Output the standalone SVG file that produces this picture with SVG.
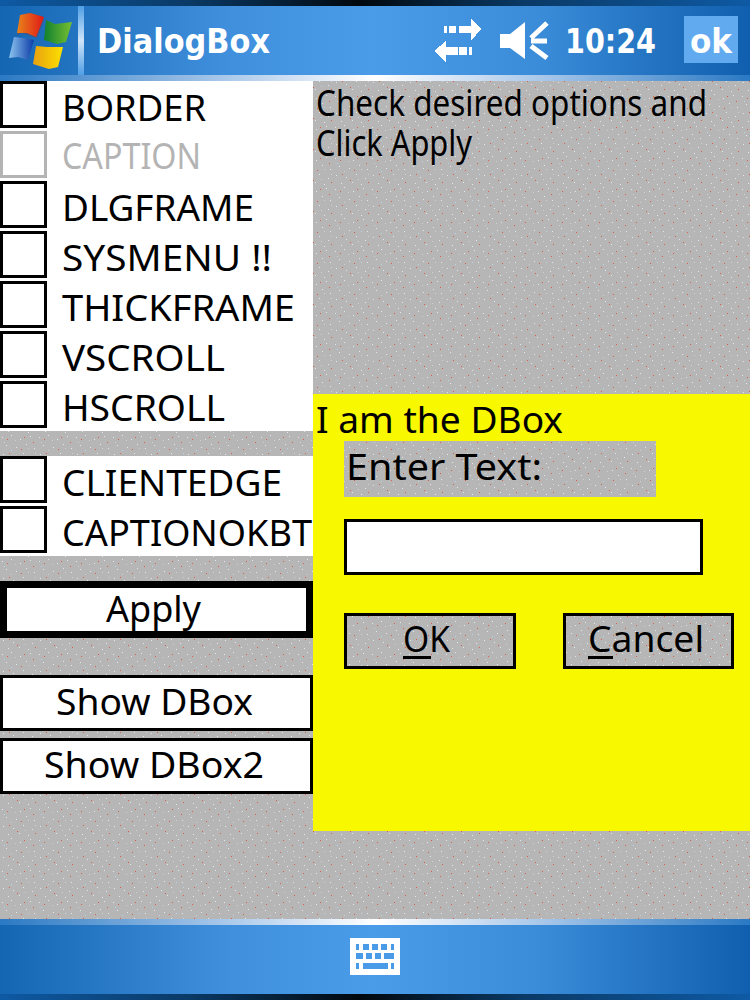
<svg xmlns="http://www.w3.org/2000/svg" width="750" height="1000" viewBox="0 0 750 1000">
<style>
.t{font-family:"Noto Sans","Liberation Sans",sans-serif;font-size:37px;fill:#000}
.w{font-family:"DejaVu Sans","Liberation Sans",sans-serif;font-size:33px;font-weight:bold;fill:#fff}
.dis{fill:#b4b4b4}
.box{fill:#fff;stroke:#000;stroke-width:3}
.gbox{fill:#fff;stroke:#b4b4b4;stroke-width:3}
.btn{fill:#fff;stroke:#000;stroke-width:3}
.gbtn{fill:url(#noise);stroke:#000;stroke-width:3}
.ic{fill:#fff}
.wave{stroke:#fff;stroke-width:5;fill:none}
</style>
<defs>
<pattern id="noise" width="37" height="31" patternUnits="userSpaceOnUse">
<rect width="37" height="31" fill="#b6b6b6"/>
<g fill="#e4e8ec"><rect x="2" y="3" width="1" height="1"/><rect x="11" y="1" width="1" height="1"/><rect x="20" y="5" width="1" height="1"/><rect x="30" y="2" width="1" height="1"/><rect x="6" y="11" width="1" height="1"/><rect x="16" y="13" width="1" height="1"/><rect x="26" y="10" width="1" height="1"/><rect x="34" y="14" width="1" height="1"/><rect x="3" y="20" width="1" height="1"/><rect x="13" y="22" width="1" height="1"/><rect x="23" y="19" width="1" height="1"/><rect x="32" y="23" width="1" height="1"/><rect x="8" y="28" width="1" height="1"/><rect x="19" y="27" width="1" height="1"/><rect x="28" y="29" width="1" height="1"/></g>
<g fill="#d8604a"><rect x="7" y="5" width="1" height="1"/><rect x="24" y="3" width="1" height="1"/><rect x="33" y="8" width="1" height="1"/><rect x="21" y="15" width="1" height="1"/><rect x="9" y="19" width="1" height="1"/><rect x="17" y="25" width="1" height="1"/><rect x="35" y="27" width="1" height="1"/></g>
<g fill="#c0d4e8"><rect x="15" y="6" width="1" height="1"/><rect x="4" y="8" width="1" height="1"/><rect x="28" y="14" width="1" height="1"/><rect x="11" y="16" width="1" height="1"/><rect x="25" y="24" width="1" height="1"/><rect x="35" y="19" width="1" height="1"/></g>
</pattern>
<linearGradient id="bar" x1="0" x2="1" y1="0" y2="0"><stop offset="0" stop-color="#1566b2"/><stop offset=".3" stop-color="#3f8fdc"/><stop offset=".5" stop-color="#4a9ce8"/><stop offset=".72" stop-color="#3a8bd8"/><stop offset="1" stop-color="#0f5fae"/></linearGradient>
<linearGradient id="dark" x1="0" x2="1" y1="0" y2="0"><stop offset="0" stop-color="#0e5aa4"/><stop offset=".25" stop-color="#0a3a66"/><stop offset=".48" stop-color="#02080e"/><stop offset=".7" stop-color="#0a3a66"/><stop offset="1" stop-color="#0e5aa4"/></linearGradient>
<linearGradient id="hl" x1="0" x2="1" y1="0" y2="0"><stop offset="0" stop-color="#2a79c4"/><stop offset=".3" stop-color="#a9c8ea"/><stop offset=".5" stop-color="#ffffff"/><stop offset=".72" stop-color="#a9c8ea"/><stop offset="1" stop-color="#2a79c4"/></linearGradient>
<linearGradient id="sep" x1="0" x2="0" y1="0" y2="1"><stop offset="0" stop-color="#4f9fe6"/><stop offset=".5" stop-color="#cfe4f8"/><stop offset="1" stop-color="#4f9fe6"/></linearGradient>
<linearGradient id="fr" x1="0" x2="1" y1="0" y2="0"><stop offset="0" stop-color="#e8841a"/><stop offset="1" stop-color="#e01818"/></linearGradient>
<linearGradient id="fg" x1="0" x2="1" y1="0" y2="0"><stop offset="0" stop-color="#108030"/><stop offset="1" stop-color="#78c030"/></linearGradient>
<linearGradient id="fb" x1="0" x2="1" y1="0" y2="0"><stop offset="0" stop-color="#8cc4ee"/><stop offset="1" stop-color="#0c3ca8"/></linearGradient>
<linearGradient id="fy" x1="0" x2="1" y1="0" y2="0"><stop offset="0" stop-color="#e8a010"/><stop offset="1" stop-color="#fce000"/></linearGradient>
</defs>

<rect id="background" width="750" height="1000" fill="url(#noise)"/>

<g id="topbar" shape-rendering="crispEdges">
<rect y="6" width="750" height="69" fill="url(#bar)"/>
<rect width="750" height="6" fill="url(#dark)"/>
<rect y="75" width="750" height="6" fill="url(#hl)"/>
<rect x="78" y="6" width="6" height="69" fill="url(#sep)"/>
</g>
<g id="winlogo">
<polygon points="14,36 17,35 20,16 30,13 42,16 44,20 37,38 22,33" fill="#5a4a6a" opacity=".7"/>
<polygon points="17,33 20,15 30,13 44,17 36,37 27,33" fill="url(#fr)"/>
<polygon points="46,20 55,24 72,22 66,42 57,44 44,40" fill="url(#fg)"/>
<polygon points="14,37 24,38 34,40 28,60 18,57 9,58" fill="url(#fb)"/>
<polygon points="36,46 47,47 63,47 58,67 49,69 33,64" fill="url(#fy)"/>
</g>
<g id="title"><text class="w" x="97" y="53" textLength="173" lengthAdjust="spacingAndGlyphs">DialogBox</text></g>
<g id="sync-icon" shape-rendering="crispEdges">
<rect class="ic" x="444" y="26" width="3" height="7"/><rect class="ic" x="449" y="26" width="7" height="7"/>
<polygon class="ic" points="459,26 471,26 471,19 481,29 471,41 471,33 459,33"/>
<rect class="ic" x="469" y="47" width="3" height="8"/><rect class="ic" x="459" y="47" width="8" height="8"/>
<polygon class="ic" points="458,47 446,47 446,41 434,51 446,63 446,55 458,55"/>
</g>
<g id="speaker-icon">
<polygon class="ic" points="500,34 510,34 525,22 525,59 510,48 500,48"/>
<path class="wave" d="M531 38L547 23M531 41H547M531 46L547 58"/>
</g>
<g id="clock"><text class="w" x="565" y="53" textLength="91" lengthAdjust="spacingAndGlyphs">10:24</text></g>
<g id="ok-button">
<rect x="684" y="16" width="54" height="47" fill="#62aaf0"/>
<text class="w" x="690" y="53" textLength="42" lengthAdjust="spacingAndGlyphs">ok</text>
</g>

<g id="options-panel" shape-rendering="crispEdges">
<rect y="81" width="313" height="350" fill="#fff"/>
<rect y="456" width="313" height="100" fill="#fff"/>
</g>

<g id="opt-border"><rect class="box" x="1.500" y="82.500" width="44" height="44" shape-rendering="crispEdges"/><text class="t" x="62" y="121" textLength="144" lengthAdjust="spacingAndGlyphs">BORDER</text></g>
<g id="opt-caption"><rect class="gbox" x="1.500" y="132.500" width="44" height="44" shape-rendering="crispEdges"/><text class="t dis" x="62" y="169" textLength="139" lengthAdjust="spacingAndGlyphs">CAPTION</text></g>
<g id="opt-dlgframe"><rect class="box" x="1.500" y="182.500" width="44" height="44" shape-rendering="crispEdges"/><text class="t" x="62" y="221" textLength="192" lengthAdjust="spacingAndGlyphs">DLGFRAME</text></g>
<g id="opt-sysmenu"><rect class="box" x="1.500" y="232.500" width="44" height="44" shape-rendering="crispEdges"/><text class="t" x="62" y="271" textLength="210" lengthAdjust="spacingAndGlyphs">SYSMENU !!</text></g>
<g id="opt-thickframe"><rect class="box" x="1.500" y="282.500" width="44" height="44" shape-rendering="crispEdges"/><text class="t" x="62" y="321" textLength="233" lengthAdjust="spacingAndGlyphs">THICKFRAME</text></g>
<g id="opt-vscroll"><rect class="box" x="1.500" y="332.500" width="44" height="44" shape-rendering="crispEdges"/><text class="t" x="62" y="371" textLength="163" lengthAdjust="spacingAndGlyphs">VSCROLL</text></g>
<g id="opt-hscroll"><rect class="box" x="1.500" y="382.500" width="44" height="44" shape-rendering="crispEdges"/><text class="t" x="62" y="421" textLength="163" lengthAdjust="spacingAndGlyphs">HSCROLL</text></g>
<g id="opt-clientedge"><rect class="box" x="1.500" y="457.500" width="44" height="44" shape-rendering="crispEdges"/><text class="t" x="62" y="496" textLength="220" lengthAdjust="spacingAndGlyphs">CLIENTEDGE</text></g>
<g id="opt-captionokbtn"><rect class="box" x="1.500" y="507.500" width="44" height="44" shape-rendering="crispEdges"/><text class="t" x="62" y="546" textLength="250" lengthAdjust="spacingAndGlyphs">CAPTIONOKBT</text></g>

<g id="btn-apply"><rect x="3" y="584.500" width="306.500" height="50" fill="#fff" stroke="#000" stroke-width="7" shape-rendering="crispEdges"/><text class="t" x="106" y="622" textLength="95" lengthAdjust="spacingAndGlyphs">Apply</text></g>
<g id="btn-show-dbox"><rect class="btn" x="1.500" y="676.500" width="310" height="53" shape-rendering="crispEdges"/><text class="t" x="56" y="715" textLength="197" lengthAdjust="spacingAndGlyphs">Show DBox</text></g>
<g id="btn-show-dbox2"><rect class="btn" x="1.500" y="739.500" width="310" height="53" shape-rendering="crispEdges"/><text class="t" x="44" y="778" textLength="220" lengthAdjust="spacingAndGlyphs">Show DBox2</text></g>

<g id="instructions">
<text class="t" x="316" y="116" textLength="391" lengthAdjust="spacingAndGlyphs">Check desired options and</text>
<text class="t" x="316" y="156" textLength="156" lengthAdjust="spacingAndGlyphs">Click Apply</text>
</g>

<g id="dbox">
<rect x="313" y="394" width="437" height="437" fill="#f8f800" shape-rendering="crispEdges"/>
<text class="t" x="316" y="433" textLength="247" lengthAdjust="spacingAndGlyphs">I am the DBox</text>
</g>
<g id="dbox-label"><rect x="344" y="441" width="312" height="56" fill="url(#noise)" shape-rendering="crispEdges"/><text class="t" x="346" y="480" textLength="196" lengthAdjust="spacingAndGlyphs">Enter Text:</text></g>
<g id="dbox-edit"><rect class="btn" x="345.500" y="520.500" width="356" height="53" shape-rendering="crispEdges"/></g>
<g id="dbox-ok"><rect class="gbtn" x="345.500" y="614.500" width="169" height="53" shape-rendering="crispEdges"/><text class="t" x="403" y="652" textLength="47" lengthAdjust="spacingAndGlyphs">OK</text><rect x="403" y="656" width="28" height="3" shape-rendering="crispEdges"/></g>
<g id="dbox-cancel"><rect class="gbtn" x="564.500" y="614.500" width="168" height="53" shape-rendering="crispEdges"/><text class="t" x="588" y="652" textLength="116" lengthAdjust="spacingAndGlyphs">Cancel</text><rect x="588" y="656" width="25" height="3" shape-rendering="crispEdges"/></g>

<g id="bottombar" shape-rendering="crispEdges">
<rect y="925" width="750" height="69" fill="url(#bar)"/>
<rect y="919" width="750" height="6" fill="url(#hl)"/>
<rect y="994" width="750" height="6" fill="url(#dark)"/>
</g>
<g id="keyboard-icon" shape-rendering="crispEdges">
<path fill="#fff" fill-rule="evenodd" d="M350 938H400V975H350ZM356 944V950H359V944ZM363 944V950H369V944ZM372 944V950H378V944ZM381 944V950H387V944ZM391 944V950H394V944ZM356 953V959H363V953ZM366 953V959H372V953ZM375 953V959H381V953ZM384 953V959H394V953ZM356 963V969H359V963ZM363 963V969H388V963ZM391 963V969H394V963Z"/>
</g>
</svg>
